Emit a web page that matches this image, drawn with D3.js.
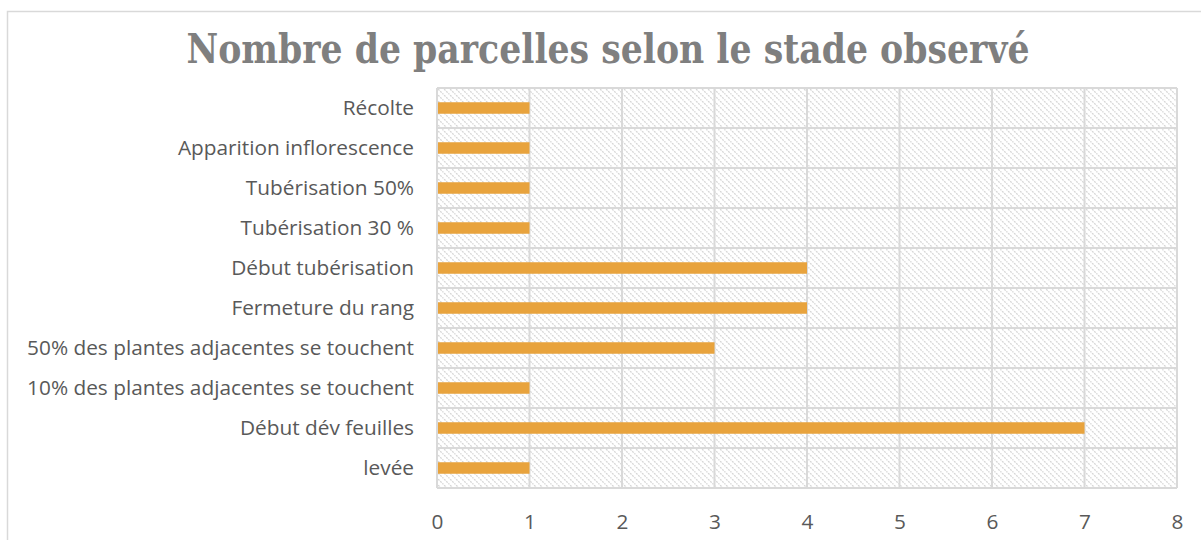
<!DOCTYPE html>
<html>
<head>
<meta charset="utf-8">
<script src="https://cdn.jsdelivr.net/npm/d3@7"></script>
<style>
  body { margin: 0; background: #fff; }
  svg { display: block; }
</style>
</head>
<body>
<div class="canvas"></div>
<script>
// data (top to bottom as shown)
const stages = ['Récolte', 'Apparition inflorescence', 'Tubérisation 50%', 'Tubérisation 30 %',
    'Début tubérisation', 'Fermeture du rang', '50% des plantes adjacentes se touchent',
    '10% des plantes adjacentes se touchent', 'Début dév feuilles', 'levée']
const counts = [1, 1, 1, 1, 4, 4, 3, 1, 7, 1]
const xTicks = [0, 1, 2, 3, 4, 5, 6, 7, 8]
const title = 'Nombre de parcelles selon le stade observé'

const width = 1201, height = 540
const margin = { top: 88, right: 24, bottom: 52, left: 437 }
const graphWidth = width - margin.left - margin.right
const graphHeight = height - margin.top - margin.bottom

const svg = d3.select('.canvas')
    .append('svg')
    .attr('width', width)
    .attr('height', height)

// hatch pattern for the plot area
const defs = svg.append('defs')
const pat = defs.append('pattern')
    .attr('id', 'hatch')
    .attr('patternUnits', 'userSpaceOnUse')
    .attr('width', 6).attr('height', 6)
pat.append('rect').attr('width', 6).attr('height', 6).attr('fill', '#fff')
pat.append('path')
    .attr('d', 'M-1,-1 L7,7 M-1,5 L1,7 M5,-1 L7,1')
    .attr('stroke', '#d6d6d6')
    .attr('stroke-width', 1.3)
    .attr('stroke-dasharray', '2,1')

// chart area border
svg.append('rect')
    .attr('x', 7.5).attr('y', 11.5)
    .attr('width', 1300).attr('height', 600)
    .attr('fill', 'none')
    .attr('stroke', '#d9d9d9')
    .attr('stroke-width', 1.5)

// title
svg.append('text')
    .attr('x', 608).attr('y', 63)
    .attr('text-anchor', 'middle')
    .attr('textLength', 843)
    .attr('lengthAdjust', 'spacingAndGlyphs')
    .style('font-family', '"DejaVu Serif Condensed", "DejaVu Serif", serif')
    .style('font-weight', 'bold')
    .style('font-size', '41px')
    .attr('fill', '#7f7f7f')
    .text(title)

const graph = svg.append('g')
    .attr('transform', `translate(${margin.left}, ${margin.top})`)

// scales
const x = d3.scaleLinear().domain([0, 8]).range([0, graphWidth])
const y = d3.scaleBand().domain(stages).range([0, graphHeight])

graph.append('rect')
    .attr('width', graphWidth)
    .attr('height', graphHeight)
    .attr('fill', 'url(#hatch)')

// grid lines
graph.selectAll('.vgrid')
    .data(xTicks)
    .enter().append('line')
        .attr('class', 'vgrid')
        .attr('x1', d => x(d)).attr('x2', d => x(d))
        .attr('y1', 0).attr('y2', graphHeight)
        .attr('stroke', '#d9d9d9').attr('stroke-width', 2)

graph.selectAll('.hgrid')
    .data(stages.concat(['__end']))
    .enter().append('line')
        .attr('class', 'hgrid')
        .attr('x1', 0).attr('x2', graphWidth)
        .attr('y1', (d, i) => i < stages.length ? y(d) : graphHeight)
        .attr('y2', (d, i) => i < stages.length ? y(d) : graphHeight)
        .attr('stroke', '#d9d9d9').attr('stroke-width', 2)

// bars
const barH = 11.5
graph.selectAll('.bar')
    .data(stages)
    .enter().append('rect')
        .attr('class', 'bar')
        .attr('x', x(0) + 1)
        .attr('y', d => y(d) + y.bandwidth() / 2 - barH / 2)
        .attr('width', (d, i) => x(counts[i]) - x(0) - 1)
        .attr('height', barH)
        .attr('fill', '#e8a33d')

// axes
const xAxis = d3.axisBottom(x).tickValues(xTicks).tickSize(0).tickPadding(26)
const yAxis = d3.axisLeft(y).tickSize(0).tickPadding(23)

const xAxisGroup = graph.append('g')
    .attr('transform', `translate(0, ${graphHeight})`)
    .call(xAxis)
const yAxisGroup = graph.append('g').call(yAxis)

;[xAxisGroup, yAxisGroup].forEach(g => {
    g.select('.domain').remove()
    g.selectAll('text')
        .style('font-family', '"Open Sans", Lato, sans-serif')
        .style('font-size', '20.8px')
        .attr('fill', '#595959')
})
</script>
</body>
</html>
